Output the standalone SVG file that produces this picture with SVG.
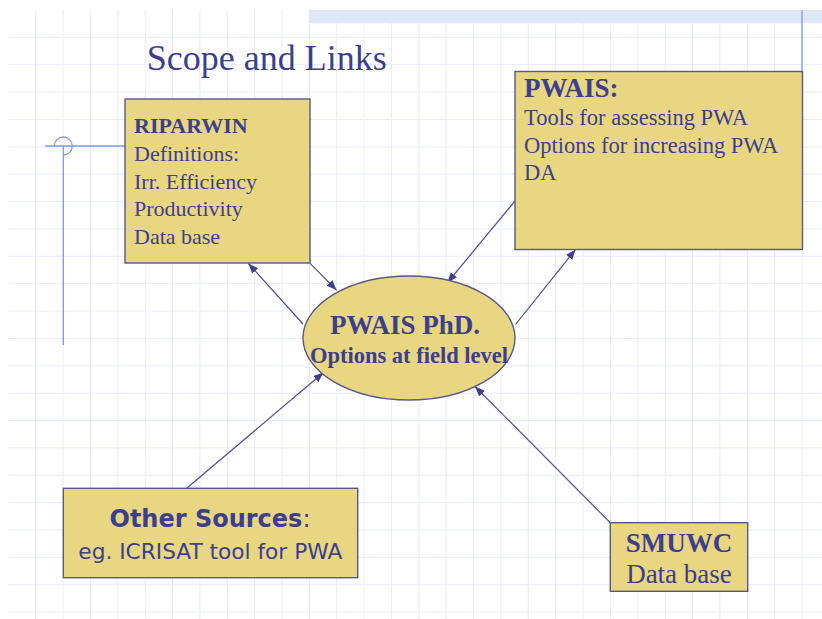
<svg xmlns="http://www.w3.org/2000/svg" width="822" height="619" viewBox="0 0 822 619">
  <style>
    .grid { stroke: #e8ecfa; stroke-width: 1; fill: none; }
    .node { fill: #e9d681; stroke: #55598f; stroke-width: 1.4; }
    .serif { font-family: "Liberation Serif", "Times New Roman", serif; fill: #3c3f8d; }
    .sans { font-family: "DejaVu Sans", Verdana, sans-serif; fill: #3c3f8d; }
    .b { font-weight: bold; }
    .link { stroke: #4b4f95; stroke-width: 1.2; fill: none; marker-end: url(#arrow); }
    .guide { stroke: #8197f0; stroke-width: 1.3; fill: none; }
  </style>
  <defs>
    <marker id="arrow" markerUnits="userSpaceOnUse" markerWidth="11" markerHeight="9" refX="10" refY="4" orient="auto">
      <path d="M0,0 L10,4 L0,8 Z" fill="#3d418d"/>
    </marker>
  </defs>

  <rect width="822" height="619" fill="#ffffff"/>

  <!-- background grid -->
  <path class="grid" d="
    M35.7,10V619 M63,10V619 M90.4,10V619 M117.8,10V619 M145.2,10V619 M172.5,10V619
    M199.9,10V619 M227.3,10V619 M254.6,10V619 M282,10V619 M309.4,10V619 M336.7,10V619
    M364.1,10V619 M391.5,10V619 M418.9,10V619 M446.2,10V619 M473.6,10V619 M501,10V619
    M528.3,10V619 M555.7,10V619 M583.1,10V619 M610.4,10V619 M637.8,10V619 M665.2,10V619
    M692.6,10V619 M719.9,10V619 M747.3,10V619 M774.7,10V619 M802,10V619
    M8.3,37.4H822 M8.3,64.7H822 M8.3,92.1H822 M8.3,119.5H822 M8.3,146.9H822 M8.3,174.2H822
    M8.3,201.6H822 M8.3,229H822 M8.3,256.3H822 M8.3,283.7H822 M8.3,311.1H822 M8.3,338.4H822
    M8.3,365.8H822 M8.3,393.2H822 M8.3,420.6H822 M8.3,447.9H822 M8.3,475.3H822 M8.3,502.7H822
    M8.3,530H822 M8.3,557.4H822 M8.3,584.8H822 M8.3,612.1H822"/>

  <!-- top band and guide marks -->
  <rect x="309" y="10" width="513" height="13.3" fill="#e0e7f9"/>
  <line class="guide" x1="802" y1="10" x2="802" y2="72"/>
  <line class="guide" x1="45" y1="146" x2="125" y2="146"/>
  <line class="guide" x1="63.3" y1="146" x2="63.3" y2="345"/>
  <path class="guide" d="M54.3,146 A9,9 0 1 1 63.3,155"/>

  <!-- title -->
  <text class="serif" x="146.7" y="70" font-size="36">Scope and Links</text>

  <!-- connectors -->
  <g id="connectors">
    <line class="link" x1="303" y1="324" x2="248.5" y2="263.5"/>
    <line class="link" x1="310" y1="263.3" x2="336.5" y2="290"/>
    <line class="link" x1="515" y1="201" x2="447.5" y2="282.5"/>
    <line class="link" x1="515.5" y1="324.5" x2="575.5" y2="249.5"/>
    <line class="link" x1="186.7" y1="488.3" x2="323.5" y2="372.5"/>
    <line class="link" x1="610.3" y1="522.7" x2="475" y2="386.5"/>
  </g>

  <!-- RIPARWIN -->
  <g id="riparwin">
    <rect class="node" x="125" y="99" width="185" height="164"/>
    <text class="serif" font-size="22">
      <tspan class="b" x="134" y="133.3">RIPARWIN</tspan>
      <tspan x="134" y="161.3">Definitions:</tspan>
      <tspan x="134" y="188.8">Irr. Efficiency</tspan>
      <tspan x="134" y="216.3">Productivity</tspan>
      <tspan x="134" y="243.8">Data base</tspan>
    </text>
  </g>

  <!-- PWAIS -->
  <g id="pwais">
    <rect class="node" x="515" y="71.5" width="287.5" height="178"/>
    <text class="serif b" x="524" y="96.7" font-size="27">PWAIS:</text>
    <text class="serif" font-size="22.5">
      <tspan x="524" y="125">Tools for assessing PWA</tspan>
      <tspan x="524" y="152.7">Options for increasing PWA</tspan>
      <tspan x="524" y="180">DA</tspan>
    </text>
  </g>

  <!-- PWAIS PhD. -->
  <g id="pwais-phd">
    <ellipse class="node" cx="409" cy="338" rx="106" ry="62" stroke-width="1.2"/>
    <text class="serif b" x="405" y="334.3" font-size="27" text-anchor="middle">PWAIS PhD.</text>
    <text class="serif b" x="409" y="362.7" font-size="22.5" text-anchor="middle">Options at field level</text>
  </g>

  <!-- Other Sources -->
  <g id="other-sources">
    <rect class="node" x="63.3" y="488.3" width="294.4" height="89.4"/>
    <text class="sans" x="210" y="526.7" font-size="24" text-anchor="middle"><tspan font-weight="bold">Other Sources</tspan>:</text>
    <text class="sans" x="210.3" y="559.3" font-size="21" text-anchor="middle" textLength="264" lengthAdjust="spacingAndGlyphs">eg. ICRISAT tool for PWA</text>
  </g>

  <!-- SMUWC -->
  <g id="smuwc">
    <rect class="node" x="610.3" y="522.7" width="137.4" height="68.6"/>
    <text class="serif b" x="679" y="551.7" font-size="27" text-anchor="middle">SMUWC</text>
    <text class="serif" x="679" y="582.7" font-size="27" text-anchor="middle">Data base</text>
  </g>
</svg>
